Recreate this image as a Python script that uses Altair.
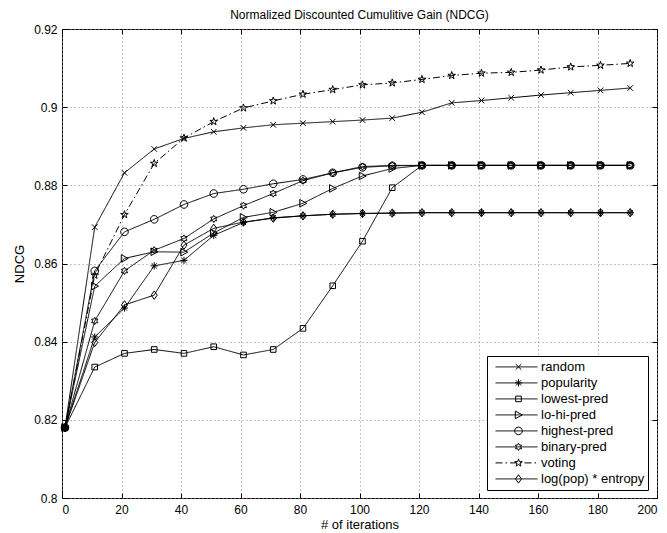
import altair as alt
import pandas as pd

# ---------------- data ----------------
iterations = [1, 11, 21, 31, 41, 51, 61, 71, 81, 91, 101, 111, 121, 131, 141, 151, 161, 171, 181, 191]

series_names = ["random", "popularity", "lowest-pred", "lo-hi-pred",
                "highest-pred", "binary-pred", "voting", "log(pop) * entropy"]

random_vals = [0.818, 0.8693, 0.8832, 0.8893, 0.8920, 0.8937, 0.8947, 0.8955, 0.8959, 0.8963,
               0.8967, 0.8972, 0.8987, 0.9011, 0.9017, 0.9024, 0.9031, 0.9037, 0.9043, 0.9049]
popularity_vals = [0.818, 0.8412, 0.8486, 0.8594, 0.8608, 0.8672, 0.8705, 0.8717, 0.8722, 0.8726,
                   0.8728, 0.8729, 0.8730, 0.8730, 0.8730, 0.8730, 0.8730, 0.8730, 0.8730, 0.8730]
lowest_vals = [0.818, 0.8335, 0.8370, 0.8380, 0.8370, 0.8387, 0.8366, 0.8380, 0.8434, 0.8543,
               0.8657, 0.8794, 0.8851, 0.8851, 0.8851, 0.8851, 0.8851, 0.8851, 0.8851, 0.8851]
lohi_vals = [0.818, 0.8542, 0.8613, 0.8630, 0.8629, 0.8678, 0.8718, 0.8731, 0.8754, 0.8792,
             0.8824, 0.8843, 0.8851, 0.8851, 0.8851, 0.8851, 0.8851, 0.8851, 0.8851, 0.8851]
highest_vals = [0.818, 0.8581, 0.8681, 0.8713, 0.8751, 0.8779, 0.8790, 0.8804, 0.8815, 0.8832,
                0.8846, 0.8850, 0.8851, 0.8851, 0.8851, 0.8851, 0.8851, 0.8851, 0.8851, 0.8851]
binary_vals = [0.818, 0.8453, 0.8581, 0.8634, 0.8664, 0.8714, 0.8748, 0.8779, 0.8812, 0.8832,
               0.8848, 0.8851, 0.8851, 0.8851, 0.8851, 0.8851, 0.8851, 0.8851, 0.8851, 0.8851]
voting_vals = [0.818, 0.8570, 0.8725, 0.8856, 0.8921, 0.8963, 0.8998, 0.9016, 0.9033, 0.9045,
               0.9057, 0.9062, 0.9071, 0.9081, 0.9087, 0.9089, 0.9095, 0.9103, 0.9107, 0.9112]
logpop_vals = [0.818, 0.8398, 0.8494, 0.8519, 0.8647, 0.8690, 0.8706, 0.8716, 0.8722, 0.8726,
               0.8728, 0.8729, 0.8730, 0.8730, 0.8730, 0.8730, 0.8730, 0.8730, 0.8730, 0.8730]

all_vals = [random_vals, popularity_vals, lowest_vals, lohi_vals,
            highest_vals, binary_vals, voting_vals, logpop_vals]

x_ticks = [0, 20, 40, 60, 80, 100, 120, 140, 160, 180, 200]
y_ticks = [0.8, 0.82, 0.84, 0.86, 0.88, 0.9, 0.92]

rows = []
for k, (name, vals) in enumerate(zip(series_names, all_vals)):
    for it, v in zip(iterations, vals):
        rows.append({"iter": it, "ndcg": v, "series": name, "series_line": name, "order": k})
df = pd.DataFrame(rows)

# ---------------- styling ----------------
FONT = "Liberation Sans"
W, H = 595, 469

shape_paths = [
    "M-0.7,-0.7L0.7,0.7M-0.7,0.7L0.7,-0.7",                                            # x
    "M0,-0.9L0,0.9M-0.9,0L0.9,0M-0.64,-0.64L0.64,0.64M-0.64,0.64L0.64,-0.64",           # asterisk
    "M-0.7,-0.7L0.7,-0.7L0.7,0.7L-0.7,0.7Z",                                             # square
    "M-0.8,-0.95L0.95,0L-0.8,0.95Z",                                                     # triangle right
    "M-0.95,0A0.95,0.95,0,1,1,0.95,0A0.95,0.95,0,1,1,-0.95,0Z",                           # circle
    "M0,-0.9L0.26,-0.45L0.779,-0.45L0.52,0L0.779,0.45L0.26,0.45L0,0.9L-0.26,0.45"
    "L-0.779,0.45L-0.52,0L-0.779,-0.45L-0.26,-0.45Z",                                    # hexagram
    "M0,-1L0.2245,-0.309L0.951,-0.309L0.363,0.118L0.588,0.809L0,0.382L-0.588,0.809"
    "L-0.363,0.118L-0.951,-0.309L-0.2245,-0.309Z",                                       # pentagram
    "M0,-1.05L0.75,0L0,1.05L-0.75,0Z",                                                   # diamond
]
dash_range = [[1, 0], [1, 0], [1, 0], [1, 0], [1, 0], [1, 0], [7, 3, 1.5, 3], [1, 0]]
marker_widths = [1, 1, 1, 1, 1, 1, 1.5, 1]

x_scale = alt.Scale(domain=[0, 200], nice=False, zero=False)
y_scale = alt.Scale(domain=[0.8, 0.92], nice=False, zero=False)

LEG_X, LEG_Y = 425, 327
ROW_H = 15.8

base = alt.Chart(df)

lines = base.mark_line(color="black", strokeWidth=1).encode(
    x=alt.X("iter:Q", scale=x_scale,
            axis=alt.Axis(orient="bottom", values=x_ticks, grid=True, ticks=False, domain=False,
                          labelPadding=6, title="# of iterations", titleY=30.5,
                          titleBaseline="alphabetic")),
    y=alt.Y("ndcg:Q", scale=y_scale,
            axis=alt.Axis(orient="left", values=y_ticks, format=".2~f", grid=True, ticks=False,
                          domain=False, labelPadding=5, title="NDCG", titleX=-43, titleY=H / 2,
                          titleAngle=270, titleBaseline="middle", titleAlign="center")),
    strokeDash=alt.StrokeDash(
        "series_line:N",
        sort=alt.EncodingSortField(field="order", op="min"),
        scale=alt.Scale(range=dash_range),
        legend=alt.Legend(orient="none", legendX=LEG_X, legendY=LEG_Y, title=None,
                          symbolType="stroke", symbolSize=42 * 42, symbolStrokeWidth=1,
                          symbolStrokeColor="black", symbolOffset=5, labelOffset=3,
                          padding=3, clipHeight=ROW_H, rowPadding=0, zindex=1,
                          labelFontSize=13, labelFont=FONT, labelColor="black",
                          labelExpr="datum.label + '   '",
                          strokeColor="black", fillColor="white"),
    ),
)

points = base.mark_point(filled=False, size=64, color="black", opacity=1).encode(
    x=alt.X("iter:Q", scale=x_scale,
            axis=alt.Axis(orient="top", offset=-H, values=x_ticks, labels=False, ticks=True,
                          tickSize=5, domain=False, grid=False, title=None)),
    y=alt.Y("ndcg:Q", scale=y_scale,
            axis=alt.Axis(orient="right", offset=-W, values=y_ticks, labels=False, ticks=True,
                          tickSize=5, domain=False, grid=False, title=None)),
    shape=alt.Shape(
        "series:N",
        scale=alt.Scale(domain=series_names, range=shape_paths),
        legend=alt.Legend(orient="none", legendX=LEG_X, legendY=LEG_Y, title=None,
                          symbolSize=64, symbolStrokeWidth=1, symbolStrokeColor="black",
                          symbolFillColor="transparent", symbolOffset=22, labelOffset=20,
                          padding=3, clipHeight=ROW_H, rowPadding=0, zindex=2,
                          labelFontSize=13, labelFont=FONT, labelExpr="''"),
    ),
    strokeWidth=alt.StrokeWidth("series:N", scale=alt.Scale(domain=series_names, range=marker_widths),
                                legend=None),
)

ghost = base.mark_point(opacity=0).encode(
    x=alt.X("iter:Q", scale=x_scale,
            axis=alt.Axis(orient="bottom", offset=-H, values=x_ticks, labels=False, ticks=True,
                          tickSize=5, domain=False, grid=False, title=None)),
    y=alt.Y("ndcg:Q", scale=y_scale,
            axis=alt.Axis(orient="left", offset=-W, values=y_ticks, labels=False, ticks=True,
                          tickSize=5, domain=False, grid=False, title=None)),
)

chart = (
    alt.layer(lines, points, ghost)
    .resolve_axis(x="independent", y="independent")
    .properties(
        width=W, height=H,
        title=alt.TitleParams("Normalized Discounted Cumulitive Gain (NDCG)", fontSize=12,
                              fontWeight="normal", font=FONT, color="black", offset=1.5),
        autosize=alt.AutoSizeParams(type="none"),
        padding={"left": 54, "top": 21, "right": 2, "bottom": 33},
    )
    .configure_view(stroke="black", strokeWidth=1)
    .configure_axis(labelFont=FONT, titleFont=FONT, labelFontSize=12, titleFontSize=13,
                    labelColor="black", titleColor="black", titleFontWeight="normal",
                    gridColor="#8a8a8a", gridDash=[1, 3], gridWidth=1,
                    tickColor="black", tickWidth=1)
)

chart.save("out.html", embed_options={"renderer": "svg", "actions": False})
